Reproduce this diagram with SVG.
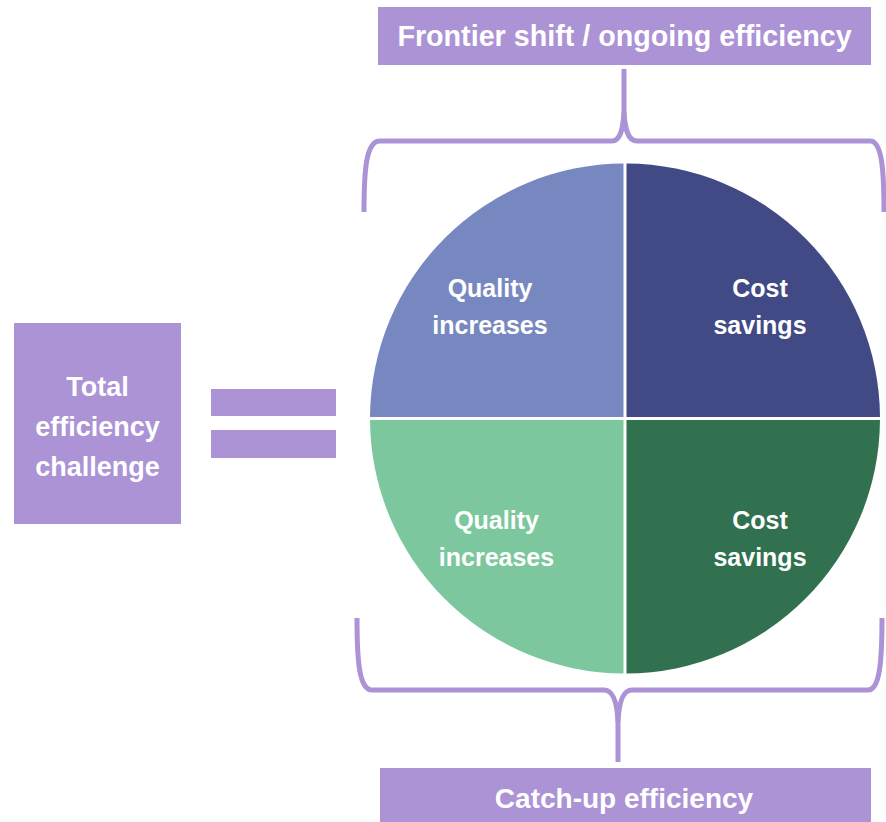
<svg xmlns="http://www.w3.org/2000/svg" width="886" height="822" viewBox="0 0 886 822">
  <style>
    .box { fill: #AB93D5; }
    .lbl { font-family: "Liberation Sans", Arial, sans-serif; font-weight: bold; fill: #ffffff; text-anchor: middle; }
    .brace { fill: none; stroke: #AB93D5; stroke-width: 5; stroke-linejoin: round; }
  </style>
  <rect width="886" height="822" fill="#ffffff"/>

  <g id="frontier">
    <rect class="box" x="378" y="7" width="493" height="58"/>
    <text class="lbl" x="624.5" y="46" font-size="28.7">Frontier shift / ongoing efficiency</text>
  </g>

  <g id="total">
    <rect class="box" x="14" y="323" width="167" height="201"/>
    <text class="lbl" x="97.5" y="396" font-size="27">Total</text>
    <text class="lbl" x="97.5" y="436" font-size="27">efficiency</text>
    <text class="lbl" x="97.5" y="476" font-size="27">challenge</text>
  </g>

  <g id="equals">
    <rect class="box" x="211" y="389" width="125" height="27"/>
    <rect class="box" x="211" y="430" width="125" height="28"/>
  </g>

  <g id="q-tl">
    <path d="M623.5 417 L623.5 163.5 A255 255 0 0 0 370 417 Z" fill="#7788C0"/>
    <text class="lbl" x="490" y="297" font-size="25">Quality</text>
    <text class="lbl" x="490" y="334" font-size="25">increases</text>
  </g>
  <g id="q-tr">
    <path d="M626.5 417 L626.5 163.5 A255 255 0 0 1 880 417 Z" fill="#424A86"/>
    <text class="lbl" x="760" y="297" font-size="25">Cost</text>
    <text class="lbl" x="760" y="334" font-size="25">savings</text>
  </g>
  <g id="q-bl">
    <path d="M623.5 420 L370 420 A255 255 0 0 0 623.5 673.5 Z" fill="#7CC79D"/>
    <text class="lbl" x="496.5" y="529" font-size="25">Quality</text>
    <text class="lbl" x="496.5" y="566" font-size="25">increases</text>
  </g>
  <g id="q-br">
    <path d="M626.5 420 L880 420 A255 255 0 0 1 626.5 673.5 Z" fill="#31714F"/>
    <text class="lbl" x="760" y="529" font-size="25">Cost</text>
    <text class="lbl" x="760" y="566" font-size="25">savings</text>
  </g>

  <g id="catchup">
    <rect class="box" x="380" y="768" width="491" height="54"/>
    <text class="lbl" x="624" y="808" font-size="28">Catch-up efficiency</text>
  </g>

  <g id="connectors">
    <path class="brace" d="M364 212 C364 170 366 141 380 141 L612 141 C620 141 623 130 624 112 L624 69"/>
    <path class="brace" d="M624 112 C625 130 628 141 637 141 L870 141 C882 141 884 170 884 212"/>
    <path class="brace" d="M357 618 C357 660 359 690 372 690 L604 690 C612 690 617 700 618 722 L618 762"/>
    <path class="brace" d="M618 722 C619 700 624 690 632 690 L868 690 C880 690 882 660 882 618"/>
  </g>
</svg>
